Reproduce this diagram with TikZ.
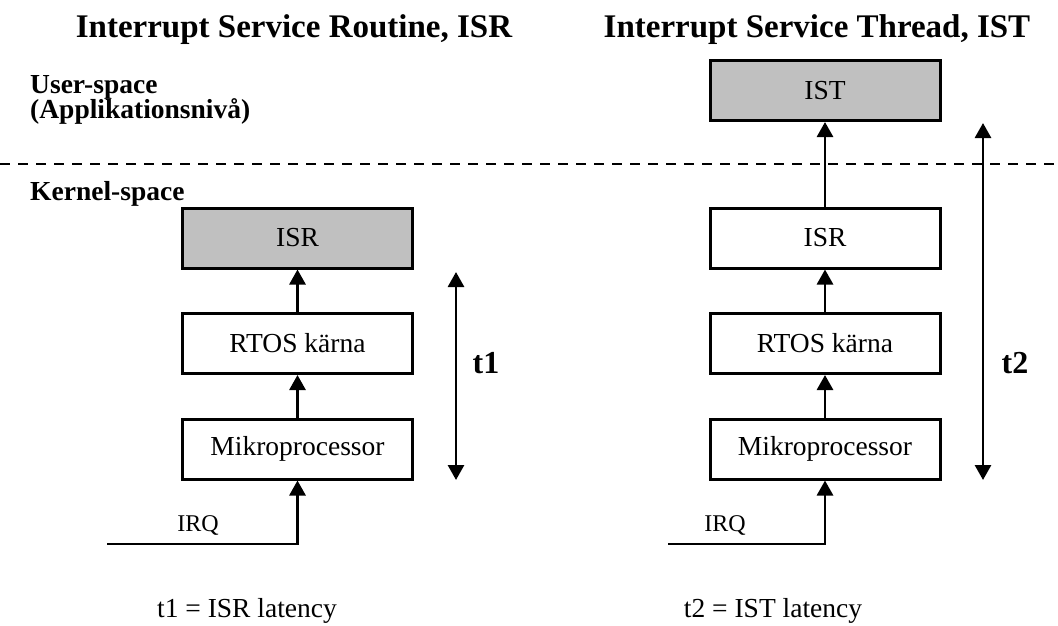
\documentclass[tikz,border=0pt]{standalone}
\usepackage{fontspec}
\setmainfont{Liberation Serif}
\usetikzlibrary{arrows.meta}
\definecolor{boxgray}{RGB}{192,192,192}
\begin{document}
\begin{tikzpicture}[x=1pt,y=-1pt,
  box/.style={draw, line width=3pt, minimum width=230pt, minimum height=60pt,
              inner sep=0pt, font=\fontsize{27.5}{30}\selectfont},
  shaded/.style={box, fill=boxgray},
  tip/.tip={Triangle[length=15pt,width=16pt]},
  flow/.style={line width=2.8pt, -tip},
  span/.style={line width=2.8pt, tip-tip},
  title/.style={anchor=base, font=\fontsize{33}{36}\selectfont\bfseries, inner sep=0pt},
  level/.style={anchor=base west, font=\fontsize{27.5}{30}\selectfont\bfseries, inner sep=0pt},
  plain/.style={font=\fontsize{27.5}{30}\selectfont, inner sep=0pt},
  irq/.style={font=\fontsize{24}{28}\selectfont, inner sep=0pt},
  tlabel/.style={font=\fontsize{32}{36}\selectfont\bfseries, inner sep=0pt}
]
\useasboundingbox (0,0) rectangle (1058,625);

% titles
\node[title] (titleL) at (294,37) {Interrupt Service Routine, ISR};
\node[title] (titleR) at (817,37) {Interrupt Service Thread, IST};

% space labels and boundary
\node[level] (user) at (30,93) {User-space};
\node[level] (appl) at (30,118) {(Applikationsnivå)};
\node[level] (kern) at (30,200) {Kernel-space};
\draw[line width=2.8pt, dash pattern=on 10pt off 8pt] (0,164) -- (1058,164);

% ISR column
\node[shaded] (isrL)  at (297.5,238) {ISR};
\node[box]    (rtosL) at (297.5,343.5) {RTOS kärna};
\node[box]    (mikL)  at (297.5,449) {Mikroprocessor};
\draw[flow] (rtosL.north) -- (isrL.south);
\draw[flow] (mikL.north) -- (rtosL.south);
\coordinate (irqL) at (107,544);
\draw[flow] (irqL) -| (mikL.south);
\node[irq] (irqTL) at (198,525) {IRQ};
\coordinate (t1top) at (456,272);
\coordinate (t1bot) at (456,480);
\draw[span] (t1top) -- (t1bot);
\node[tlabel] (t1) at (486,363) {t1};
\node[plain] (lat1) at (247,611) {t1 = ISR latency};

% IST column
\node[shaded] (ist)   at (825,90.5) {IST};
\node[box]    (isrR)  at (825,238) {ISR};
\node[box]    (rtosR) at (825,343.5) {RTOS kärna};
\node[box]    (mikR)  at (825,449) {Mikroprocessor};
\draw[flow] (isrR.north) -- (ist.south);
\draw[flow] (rtosR.north) -- (isrR.south);
\draw[flow] (mikR.north) -- (rtosR.south);
\coordinate (irqR) at (668,544);
\draw[flow] (irqR) -| (mikR.south);
\node[irq] (irqTR) at (725,525) {IRQ};
\coordinate (t2top) at (983,123);
\coordinate (t2bot) at (983,480);
\draw[span] (t2top) -- (t2bot);
\node[tlabel] (t2) at (1015,363) {t2};
\node[plain] (lat2) at (773,611) {t2 = IST latency};
\end{tikzpicture}
\end{document}
